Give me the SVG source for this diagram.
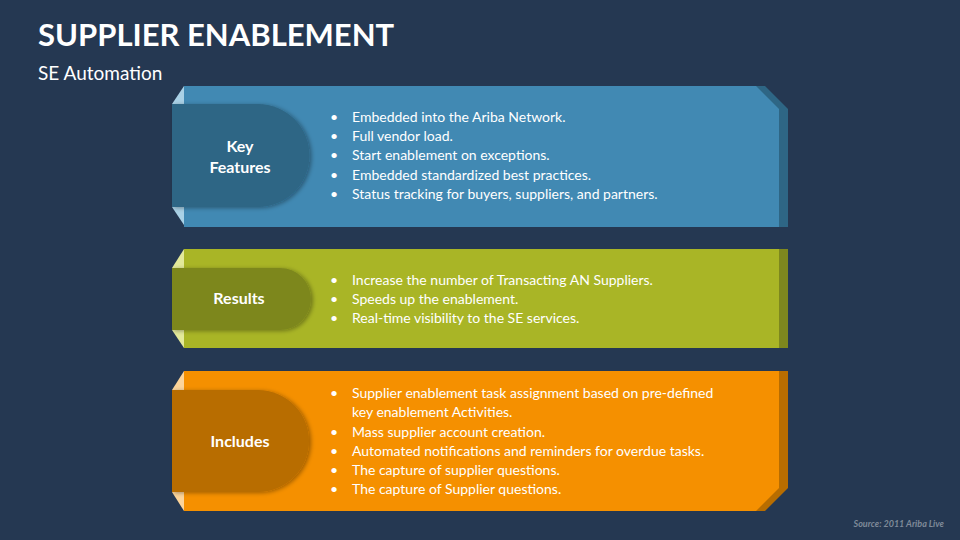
<svg xmlns="http://www.w3.org/2000/svg" width="960" height="540" viewBox="0 0 960 540">
<defs>
<style>
text{font-family:Lato,"Open Sans","Liberation Sans",sans-serif;fill:#fff}
.t{font-weight:bold;font-size:31px}
.s{font-size:19px}
.b{font-size:14px}
.h{font-weight:bold;font-size:16px}
.src{font-size:9px;font-style:italic;font-weight:bold;fill:#7f8a99}
</style>
<filter id="sh" x="-10%" y="-10%" width="130%" height="130%"><feDropShadow dx="2" dy="1" stdDeviation="2" flood-color="#000" flood-opacity="0.35"/></filter>
</defs>
<rect width="960" height="540" fill="#253852"/>
<text class="t" x="38" y="46">SUPPLIER ENABLEMENT</text>
<text class="s" x="38" y="80">SE Automation</text>

<g id="key-features">
<polygon points="184,86 765,86 788,109 788,227 184,227" fill="#2e6685"/>
<polygon points="184,86 756,86 779,109 779,227 184,227" fill="#4189b3"/>
<polygon points="172,104 184,86 184,104" fill="#a9d1e6"/>
<polygon points="172,207 184,225 184,207" fill="#a9d1e6"/>
<path d="M172,104 H258 A51.5,51.5 0 0 1 258,207 H172 Z" fill="#2e6685" filter="url(#sh)"/>
<text class="h" x="240" y="152" text-anchor="middle">Key</text>
<text class="h" x="240" y="173" text-anchor="middle">Features</text>
<text class="b"><tspan x="330" y="122">•</tspan><tspan x="352" y="122">Embedded into the Ariba Network.</tspan><tspan x="330" y="141">•</tspan><tspan x="352" y="141">Full vendor load.</tspan><tspan x="330" y="160">•</tspan><tspan x="352" y="160">Start enablement on exceptions.</tspan><tspan x="330" y="180">•</tspan><tspan x="352" y="180">Embedded standardized best practices.</tspan><tspan x="330" y="199">•</tspan><tspan x="352" y="199">Status tracking for buyers, suppliers, and partners.</tspan></text>
</g>

<g id="results">
<rect x="184" y="249" width="604" height="99" fill="#7d871e"/>
<rect x="184" y="249" width="595" height="99" fill="#a9b526"/>
<polygon points="172,268 184,249 184,268" fill="#e3e99a"/>
<polygon points="172,330 184,348 184,330" fill="#e3e99a"/>
<path d="M172,268 H280 A31,31 0 0 1 280,330 H172 Z" fill="#7d871e" filter="url(#sh)"/>
<text class="h" x="239" y="304" text-anchor="middle">Results</text>
<text class="b"><tspan x="330" y="285">•</tspan><tspan x="352" y="285">Increase the number of Transacting AN Suppliers.</tspan><tspan x="330" y="304">•</tspan><tspan x="352" y="304">Speeds up the enablement.</tspan><tspan x="330" y="323">•</tspan><tspan x="352" y="323">Real-time visibility to the SE services.</tspan></text>
</g>

<g id="includes">
<polygon points="184,371 788,371 788,488 765,511 184,511" fill="#b86d00"/>
<polygon points="184,371 779,371 779,488 756,511 184,511" fill="#f59000"/>
<polygon points="172,390 184,371 184,390" fill="#fcd49a"/>
<polygon points="172,492 184,511 184,492" fill="#fcd49a"/>
<path d="M172,390 H258 A51,51 0 0 1 258,492 H172 Z" fill="#b86d00" filter="url(#sh)"/>
<text class="h" x="240" y="447" text-anchor="middle">Includes</text>
<text class="b"><tspan x="330" y="398">•</tspan><tspan x="352" y="398">Supplier enablement task assignment based on pre-defined</tspan><tspan x="352" y="417">key enablement Activities.</tspan><tspan x="330" y="437">•</tspan><tspan x="352" y="437">Mass supplier account creation.</tspan><tspan x="330" y="456">•</tspan><tspan x="352" y="456">Automated notifications and reminders for overdue tasks.</tspan><tspan x="330" y="475">•</tspan><tspan x="352" y="475">The capture of supplier questions.</tspan><tspan x="330" y="494">•</tspan><tspan x="352" y="494">The capture of Supplier questions.</tspan></text>
</g>

<text class="src" x="944" y="527" text-anchor="end">Source: 2011 Ariba Live</text>
</svg>
